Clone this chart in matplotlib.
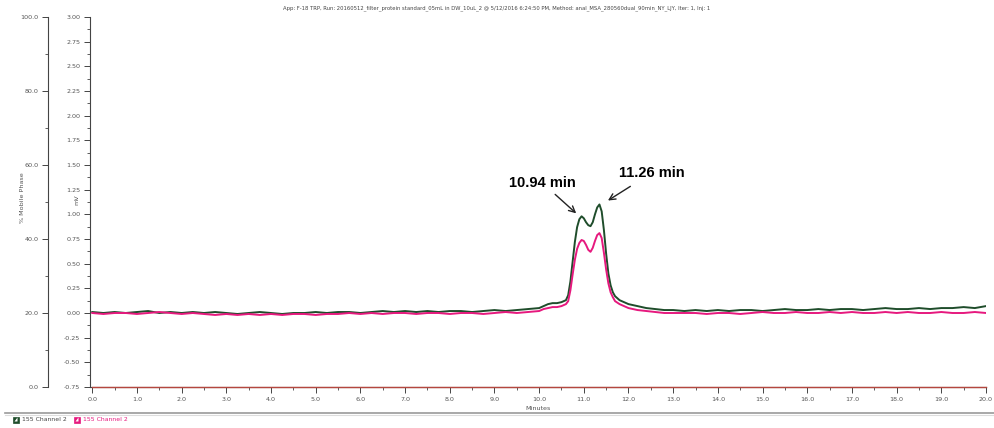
import numpy as np
import matplotlib
matplotlib.use('Agg')
import matplotlib.pyplot as plt
from matplotlib.lines import Line2D
from matplotlib.patches import Rectangle, Polygon
from matplotlib.ticker import MultipleLocator, FormatStrFormatter

# baseline before the peak (0.0 .. 9.75 min, every 0.25 min)
t_pre = np.arange(0, 10.0, 0.25)
green_pre = [0.01, 0.00, 0.01, 0.00, 0.01, 0.02, 0.00, 0.01, 0.00, 0.01,
             0.00, 0.01, 0.00, -0.01, 0.00, 0.01, 0.00, -0.01, 0.00, 0.00,
             0.01, 0.00, 0.01, 0.01, 0.00, 0.01, 0.02, 0.01, 0.02, 0.01,
             0.02, 0.01, 0.02, 0.02, 0.01, 0.02, 0.03, 0.02, 0.03, 0.04]
pink_pre = [0.00, -0.01, 0.00, 0.00, -0.01, 0.00, 0.01, 0.00, -0.01, 0.00,
            -0.01, -0.02, -0.01, -0.02, -0.01, -0.02, -0.01, -0.02, -0.01, -0.01,
            -0.02, -0.01, -0.01, 0.00, -0.01, 0.00, -0.01, 0.00, 0.00, -0.01,
            0.00, 0.00, -0.01, 0.00, 0.00, -0.01, 0.00, 0.01, 0.00, 0.01]

# peak region
t_peak = [10.0, 10.1, 10.2, 10.3, 10.4, 10.5, 10.6, 10.65, 10.7, 10.75, 10.8,
          10.85, 10.9, 10.95, 11.0, 11.05, 11.1, 11.15, 11.2, 11.25, 11.3,
          11.35, 11.4, 11.45, 11.5, 11.55, 11.6, 11.65, 11.7, 11.8, 11.9,
          12.0, 12.2, 12.4, 12.6, 12.8, 13.0]
green_peak = [0.05, 0.07, 0.09, 0.10, 0.10, 0.11, 0.13, 0.18, 0.32, 0.52, 0.72,
              0.87, 0.95, 0.98, 0.96, 0.92, 0.89, 0.88, 0.92, 1.00, 1.07,
              1.10, 1.03, 0.84, 0.60, 0.40, 0.28, 0.21, 0.17, 0.13, 0.11,
              0.09, 0.07, 0.05, 0.04, 0.03, 0.03]
pink_peak = [0.02, 0.04, 0.05, 0.06, 0.06, 0.07, 0.09, 0.12, 0.23, 0.39, 0.54,
             0.65, 0.71, 0.74, 0.73, 0.69, 0.64, 0.62, 0.66, 0.73, 0.79,
             0.81, 0.76, 0.61, 0.44, 0.30, 0.21, 0.16, 0.12, 0.09, 0.07,
             0.05, 0.03, 0.02, 0.01, 0.00, 0.00]

# baseline after the peak (13.25 .. 20.0 min)
t_post = np.arange(13.25, 20.01, 0.25)
green_post = [0.02, 0.03, 0.02, 0.03, 0.02, 0.03, 0.03, 0.02, 0.03, 0.04,
              0.03, 0.03, 0.04, 0.03, 0.04, 0.04, 0.03, 0.04, 0.05, 0.04,
              0.04, 0.05, 0.04, 0.05, 0.05, 0.06, 0.05, 0.07]
pink_post = [0.00, 0.00, -0.01, 0.00, 0.00, -0.01, 0.00, 0.01, 0.00, 0.00,
             0.01, 0.00, 0.00, 0.01, 0.00, 0.01, 0.00, 0.00, 0.01, 0.00,
             0.01, 0.00, 0.00, 0.01, 0.00, 0.00, 0.01, 0.00]

mp_time = [0.0, 20.0]
mp_percent = [0.0, 0.0]

title = ('App: F-18 TRP, Run: 20160512_filter_protein standard_05mL in DW_10uL_2 '
         '@ 5/12/2016 6:24:50 PM, Method: anal_MSA_280560dual_90min_NY_LJY, Iter: 1, Inj: 1')

t = np.concatenate([t_pre, t_peak, t_post])
green = np.concatenate([green_pre, green_peak, green_post])
pink = np.concatenate([pink_pre, pink_peak, pink_post])

W, H = 994, 428
fig = plt.figure(figsize=(W / 100, H / 100), dpi=100)
ax = fig.add_axes([90 / W, 1 - 387 / H, 896 / W, 370 / H])

grey = '#555555'
tick_font = 4.6

ax.plot(t, green, color='#1f4d2b', lw=1.4, zorder=3)
ax.plot(t, pink, color='#e6197e', lw=1.4, zorder=4)

ax.set_xlim(-0.05, 20.0)
ax.set_ylim(-0.75, 3.0)
for s in ['top', 'right']:
    ax.spines[s].set_visible(False)
for s in ['left', 'bottom']:
    ax.spines[s].set_color('#444444')
    ax.spines[s].set_linewidth(0.8)

ax.xaxis.set_major_locator(MultipleLocator(1.0))
ax.xaxis.set_minor_locator(MultipleLocator(0.5))
ax.xaxis.set_major_formatter(FormatStrFormatter('%.1f'))
ax.yaxis.set_major_locator(MultipleLocator(0.25))
ax.yaxis.set_minor_locator(MultipleLocator(0.125))
ax.yaxis.set_major_formatter(FormatStrFormatter('%.2f'))
ax.tick_params(which='major', length=4, width=0.7, color='#444444',
               labelsize=tick_font, labelcolor=grey, pad=3)
ax.tick_params(which='minor', length=2, width=0.6, color='#444444')
ax.set_xlabel('Minutes', fontsize=tick_font, color=grey, labelpad=3)
# the mV label sits in between the tick labels
fig.text(77 / W, 1 - 200 / H, 'mV', rotation=90, fontsize=tick_font, color=grey,
         ha='center', va='center')

# % mobile phase axis on the far left
ax2 = ax.twinx()
ax2.set_ylim(0, 100)
ax2.spines['left'].set_position(('outward', 30))
ax2.spines['left'].set_color('#444444')
ax2.spines['left'].set_linewidth(0.8)
for s in ['top', 'right', 'bottom']:
    ax2.spines[s].set_visible(False)
ax2.yaxis.set_ticks_position('left')
ax2.yaxis.set_major_locator(MultipleLocator(20))
ax2.yaxis.set_minor_locator(MultipleLocator(10))
ax2.yaxis.set_major_formatter(FormatStrFormatter('%.1f'))
ax2.tick_params(which='major', length=4, width=0.7, color='#444444',
                labelsize=tick_font, labelcolor=grey, pad=3)
ax2.tick_params(which='minor', length=2, width=0.6, color='#444444')
fig.text(23 / W, 1 - 198 / H, '% Mobile Phase', rotation=90, fontsize=tick_font,
         color=grey, ha='center', va='center')
ax2.plot(mp_time, mp_percent, color='#b5473f', lw=1.0, clip_on=False, zorder=5)

# peak annotations
ann = dict(fontsize=10.5, fontweight='bold', family='Liberation Sans', color='black')
ax.annotate('10.94 min', xy=(10.83, 1.01), xytext=(10.07, 1.32),
            ha='center', va='center',
            arrowprops=dict(arrowstyle='->', color='#222222', lw=1.0,
                            shrinkA=2, shrinkB=0, mutation_scale=11), **ann)
ax.annotate('11.26 min', xy=(11.54, 1.14), xytext=(12.52, 1.42),
            ha='center', va='center',
            arrowprops=dict(arrowstyle='->', color='#222222', lw=1.0,
                            shrinkA=5, shrinkB=0, mutation_scale=11), **ann)

fig.text(0.5, 1 - 8 / H, title, ha='center', va='center', fontsize=3.8, color='#444444')

# footer legend strip
fig.add_artist(Line2D([5 / W, 1.0], [1 - 413 / H] * 2, color='#999999', lw=1.2))
fig.add_artist(Line2D([5 / W, 1.0], [1 - 414.5 / H] * 2, color='#dddddd', lw=0.8))

def icon(x, y, c):
    s = 6
    fig.add_artist(Rectangle((x / W, 1 - (y + s / 2) / H), s / W, s / H,
                             facecolor=c, edgecolor=c, lw=0.5))
    fig.add_artist(Polygon([((x + 1.5) / W, 1 - (y + 2) / H), ((x + 4.5) / W, 1 - (y - 2) / H),
                            ((x + 4.5) / W, 1 - (y + 2) / H)],
                           closed=True, facecolor='white', edgecolor='none'))

icon(13, 419.5, '#1f4d2b')
fig.text(22 / W, 1 - 419.5 / H, '155 Channel 2', fontsize=4.4, color='#444444', va='center')
icon(74, 419.5, '#e6197e')
fig.text(83 / W, 1 - 419.5 / H, '155 Channel 2', fontsize=4.4, color='#e6197e', va='center')

fig.savefig('out.png', dpi=100)
